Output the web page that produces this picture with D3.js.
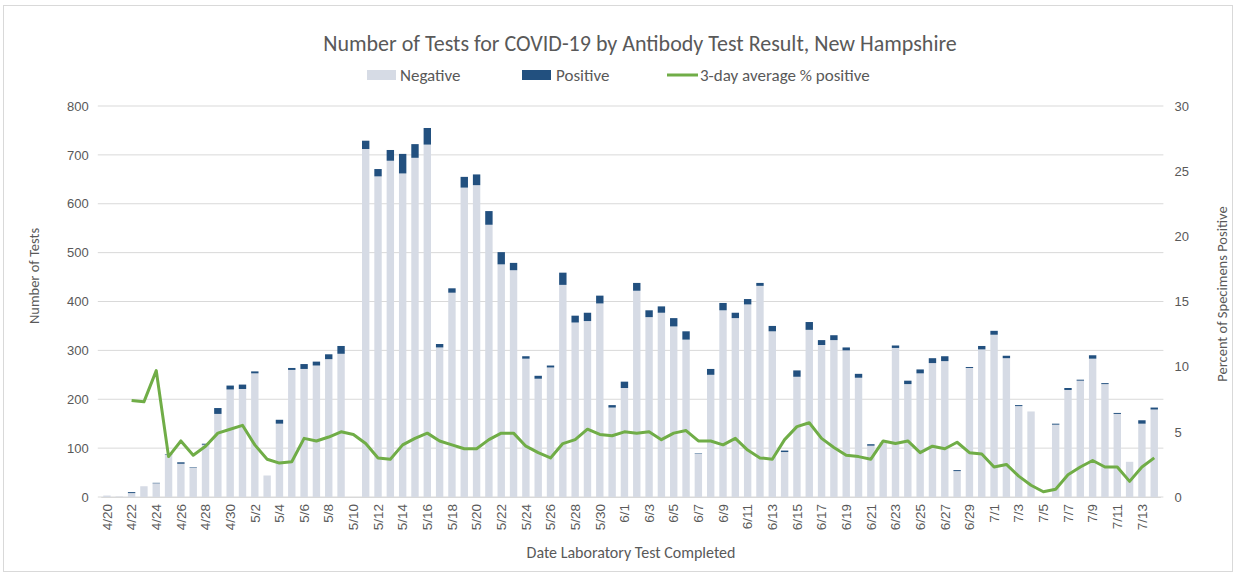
<!DOCTYPE html>
<html><head><meta charset="utf-8">
<script src="https://cdn.jsdelivr.net/npm/d3@7"></script>
<style>
html,body{margin:0;padding:0;background:#fff;}
svg{display:block;font-family:Carlito,"Liberation Sans Narrow","Liberation Sans",sans-serif;}
</style></head>
<body>
<svg id="chart" width="1236" height="575"></svg>
<script>
const dates = ["4/20","4/21","4/22","4/23","4/24","4/25","4/26","4/27","4/28","4/29","4/30",
"5/1","5/2","5/3","5/4","5/5","5/6","5/7","5/8","5/9","5/10","5/11","5/12","5/13","5/14","5/15","5/16","5/17","5/18","5/19","5/20","5/21","5/22","5/23","5/24","5/25","5/26","5/27","5/28","5/29","5/30","5/31",
"6/1","6/2","6/3","6/4","6/5","6/6","6/7","6/8","6/9","6/10","6/11","6/12","6/13","6/14","6/15","6/16","6/17","6/18","6/19","6/20","6/21","6/22","6/23","6/24","6/25","6/26","6/27","6/28","6/29","6/30",
"7/1","7/2","7/3","7/4","7/5","7/6","7/7","7/8","7/9","7/10","7/11","7/12","7/13","7/14"];

const totalTests = [3,1,10,22,29,88,71,61,109,182,228,
230,257,44,158,264,272,277,292,309,0,729,671,710,702,722,755,313,427,655,660,585,501,479,288,248,269,459,371,377,412,188,
236,438,382,390,366,339,89,262,397,377,405,438,350,95,259,358,321,331,306,252,108,112,310,238,261,284,288,55,266,309,
340,289,188,175,0,150,223,240,290,233,172,72,157,183];

const positive = [0,0,2,0,1,1,3,1,2,12,8,
9,4,0,8,4,10,8,10,16,0,17,15,22,40,28,34,7,9,22,22,28,25,15,5,6,4,25,14,17,16,5,
13,16,14,13,17,17,1,12,15,11,11,6,11,3,13,16,10,10,6,8,3,0,5,7,8,10,10,2,2,7,
8,5,2,0,0,2,4,2,7,2,2,0,7,4];

const negative = totalTests.map((t,i)=>t-positive[i]);

const pctPositive = [null,null,7.4,7.3,9.7,3.1,4.3,3.2,3.9,4.9,5.2,
5.5,4.0,2.9,2.6,2.7,4.5,4.3,4.6,5.0,4.8,4.1,3.0,2.9,4.0,4.5,4.9,4.3,4.0,3.7,3.7,4.4,4.9,4.9,3.9,3.4,3.0,4.1,4.4,5.2,4.8,4.7,
5.0,4.9,5.0,4.4,4.9,5.1,4.3,4.3,4.0,4.5,3.6,3.0,2.9,4.4,5.4,5.7,4.5,3.8,3.2,3.1,2.9,4.3,4.1,4.3,3.4,3.9,3.7,4.2,3.4,3.3,
2.3,2.5,1.6,0.9,0.4,0.6,1.7,2.3,2.8,2.3,2.3,1.2,2.3,3.0];

const leftTicks = [0,100,200,300,400,500,600,700,800];
const rightTicks = [0,5,10,15,20,25,30];

const seriesNames = ["Negative","Positive","3-day average % positive"];

(function(){
const colors = {neg:"#d6dbe5", pos:"#22507f", line:"#70ad47", grid:"#d9d9d9", text:"#595959"};

const svg = d3.select("#chart");
const W = 1236, H = 575;
const pLeft = 100.8, pRight = 1160.4, pTop = 106, pBottom = 497;

// border
svg.append("rect").attr("x",3.5).attr("y",5.5).attr("width",W-7).attr("height",H-9)
  .attr("fill","#fff").attr("stroke","#d9d9d9");

const x = d3.scaleBand().domain(dates).range([pLeft,pRight]).paddingInner(0.4).paddingOuter(0.2);
const yL = d3.scaleLinear().domain([0,800]).range([pBottom,pTop]);
const yR = d3.scaleLinear().domain([0,30]).range([pBottom,pTop]);

// gridlines
svg.append("g").selectAll("line").data(leftTicks).join("line")
  .attr("x1",pLeft-3).attr("x2",pRight+3)
  .attr("y1",d=>yL(d)).attr("y2",d=>yL(d))
  .attr("stroke",colors.grid).attr("stroke-width",1);

// stacked bars
const stackData = dates.map((d,i)=>({date:d, neg:negative[i], pos:positive[i]}));
const stack = d3.stack().keys(["neg","pos"])(stackData);
svg.append("g").selectAll("g").data(stack).join("g")
  .attr("fill",s=>s.key==="neg"?colors.neg:colors.pos)
  .selectAll("rect").data(s=>s).join("rect")
  .attr("x",d=>x(d.data.date)).attr("width",x.bandwidth())
  .attr("y",d=>yL(d[1])).attr("height",d=>Math.max(0,yL(d[0])-yL(d[1])));

// line
const lineGen = d3.line().defined(d=>d.v!==null)
  .x(d=>x(d.date)+x.bandwidth()/2).y(d=>yR(d.v));
svg.append("path").datum(dates.map((d,i)=>({date:d,v:pctPositive[i]})))
  .attr("d",lineGen).attr("fill","none").attr("stroke",colors.line)
  .attr("stroke-width",3).attr("stroke-linejoin","round");

// left axis
const axL = svg.append("g").attr("transform",`translate(${pLeft-6},0)`)
  .call(d3.axisLeft(yL).tickValues(leftTicks).tickSize(0).tickPadding(6));
axL.select(".domain").remove();
axL.selectAll("text").attr("fill",colors.text).attr("font-size",13).attr("font-family","inherit");

// right axis
const axR = svg.append("g").attr("transform",`translate(${pRight+8},0)`)
  .call(d3.axisRight(yR).tickValues(rightTicks).tickSize(0).tickPadding(6));
axR.select(".domain").remove();
axR.selectAll("text").attr("fill",colors.text).attr("font-size",13).attr("font-family","inherit");

// x axis
const xTickVals = dates.filter((d,i)=>i%2===0);
const axX = svg.append("g").attr("transform",`translate(0,${pBottom})`)
  .call(d3.axisBottom(x).tickValues(xTickVals).tickSize(0).tickPadding(0));
axX.select(".domain").attr("stroke",colors.grid);
axX.selectAll("text").attr("fill",colors.text).attr("font-size",13.5).attr("font-family","inherit")
  .attr("transform","rotate(-90)").attr("text-anchor","end")
  .attr("x",-7).attr("y",0).attr("dy","0.35em");

// titles
svg.append("text").attr("x",640).attr("y",51).attr("text-anchor","middle")
  .attr("fill",colors.text).attr("font-size",22)
  .text("Number of Tests for COVID-19 by Antibody Test Result, New Hampshire");

svg.append("text").attr("transform","translate(39,276) rotate(-90)").attr("text-anchor","middle")
  .attr("fill",colors.text).attr("font-size",14.5).text("Number of Tests");
svg.append("text").attr("transform","translate(1227,294) rotate(-90)").attr("text-anchor","middle")
  .attr("fill",colors.text).attr("font-size",14.5).text("Percent of Specimens Positive");
svg.append("text").attr("x",631).attr("y",558).attr("text-anchor","middle")
  .attr("fill",colors.text).attr("font-size",16).text("Date Laboratory Test Completed");

// legend
const lg = svg.append("g").attr("font-size",17).attr("fill",colors.text);
const legendItems = [
  {name:seriesNames[0], type:"rect", color:colors.neg, x:367, tx:400},
  {name:seriesNames[1], type:"rect", color:colors.pos, x:522, tx:556},
  {name:seriesNames[2], type:"line", color:colors.line, x:667, tx:700}
];
legendItems.forEach(it=>{
  if(it.type==="rect"){
    lg.append("rect").attr("x",it.x).attr("y",70).attr("width",29).attr("height",10).attr("fill",it.color);
  } else {
    lg.append("line").attr("x1",it.x).attr("x2",it.x+31).attr("y1",75).attr("y2",75)
      .attr("stroke",it.color).attr("stroke-width",3);
  }
  lg.append("text").attr("x",it.tx).attr("y",81).attr("fill",colors.text).text(it.name);
});
})();
</script>
</body></html>
